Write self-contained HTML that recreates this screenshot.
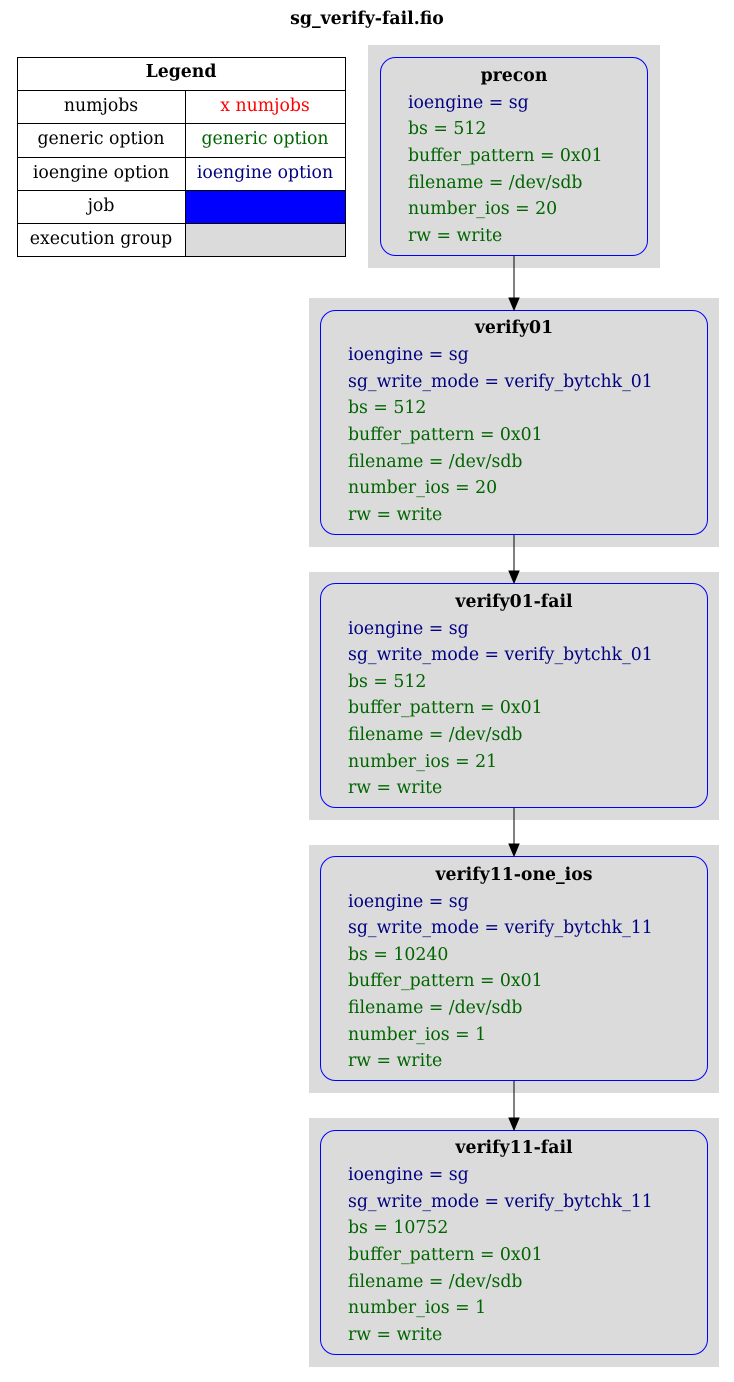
<!DOCTYPE html>
<html><head><meta charset="utf-8"><style>
html,body{margin:0;padding:0;background:#fff;}
svg{display:block;font-family:"DejaVu Serif","Liberation Serif",serif;font-size:17.3px;}
.b{font-weight:bold;}
.n{fill:#000080;}
.g{fill:#006400;}
</style></head><body>
<svg width="734" height="1382" viewBox="0 0 734 1382" xmlns="http://www.w3.org/2000/svg">
<text x="367" y="24" text-anchor="middle" class="b">sg_verify-fail.fio</text>

<!-- legend -->
<rect x="186" y="191" width="159" height="32" fill="#0000ff"/>
<rect x="186" y="224" width="159" height="32" fill="#dbdbdb"/>
<g stroke="#000" stroke-width="1" fill="none">
<rect x="17.5" y="57.5" width="328" height="199"/>
<line x1="17.5" y1="90.5" x2="345.5" y2="90.5"/>
<line x1="17.5" y1="123.5" x2="345.5" y2="123.5"/>
<line x1="17.5" y1="157.5" x2="345.5" y2="157.5"/>
<line x1="17.5" y1="190.5" x2="345.5" y2="190.5"/>
<line x1="17.5" y1="223.5" x2="345.5" y2="223.5"/>
<line x1="185.5" y1="90.5" x2="185.5" y2="256.5"/>
</g>
<text x="181" y="77" text-anchor="middle" class="b">Legend</text>
<text x="101" y="111" text-anchor="middle">numjobs</text>
<text x="265" y="111" text-anchor="middle" fill="#ff0000">x numjobs</text>
<text x="101" y="144" text-anchor="middle">generic option</text>
<text x="265" y="144" text-anchor="middle" class="g">generic option</text>
<text x="101" y="178" text-anchor="middle">ioengine option</text>
<text x="265" y="178" text-anchor="middle" class="n">ioengine option</text>
<text x="101" y="211" text-anchor="middle">job</text>
<text x="101" y="244" text-anchor="middle">execution group</text>

<!-- precon -->
<rect x="368" y="45" width="292" height="223" fill="#dbdbdb"/>
<rect x="380.5" y="57.5" width="267" height="198" rx="15" fill="none" stroke="#0000ff"/>
<text x="514" y="81" text-anchor="middle" class="b">precon</text>
<text x="408" y="108" class="n">ioengine = sg</text>
<text x="408" y="134" class="g">bs = 512</text>
<text x="408" y="161" class="g">buffer_pattern = 0x01</text>
<text x="408" y="188" class="g">filename = /dev/sdb</text>
<text x="408" y="214" class="g">number_ios = 20</text>
<text x="408" y="241" class="g">rw = write</text>

<!-- verify01 -->
<rect x="309" y="298" width="410" height="249" fill="#dbdbdb"/>
<rect x="320.5" y="310.5" width="387" height="224" rx="15" fill="none" stroke="#0000ff"/>
<text x="514" y="333" text-anchor="middle" class="b">verify01</text>
<text x="348" y="360" class="n">ioengine = sg</text>
<text x="348" y="387" class="n">sg_write_mode = verify_bytchk_01</text>
<text x="348" y="413" class="g">bs = 512</text>
<text x="348" y="440" class="g">buffer_pattern = 0x01</text>
<text x="348" y="467" class="g">filename = /dev/sdb</text>
<text x="348" y="493" class="g">number_ios = 20</text>
<text x="348" y="520" class="g">rw = write</text>

<!-- verify01-fail -->
<rect x="309" y="572" width="410" height="248" fill="#dbdbdb"/>
<rect x="320.5" y="583.5" width="387" height="224" rx="15" fill="none" stroke="#0000ff"/>
<text x="514" y="607" text-anchor="middle" class="b">verify01-fail</text>
<text x="348" y="634" class="n">ioengine = sg</text>
<text x="348" y="660" class="n">sg_write_mode = verify_bytchk_01</text>
<text x="348" y="687" class="g">bs = 512</text>
<text x="348" y="713" class="g">buffer_pattern = 0x01</text>
<text x="348" y="740" class="g">filename = /dev/sdb</text>
<text x="348" y="767" class="g">number_ios = 21</text>
<text x="348" y="793" class="g">rw = write</text>

<!-- verify11-one_ios -->
<rect x="309" y="845" width="410" height="248" fill="#dbdbdb"/>
<rect x="320.5" y="856.5" width="387" height="224" rx="15" fill="none" stroke="#0000ff"/>
<text x="514" y="880" text-anchor="middle" class="b">verify11-one_ios</text>
<text x="348" y="907" class="n">ioengine = sg</text>
<text x="348" y="933" class="n">sg_write_mode = verify_bytchk_11</text>
<text x="348" y="960" class="g">bs = 10240</text>
<text x="348" y="986" class="g">buffer_pattern = 0x01</text>
<text x="348" y="1013" class="g">filename = /dev/sdb</text>
<text x="348" y="1040" class="g">number_ios = 1</text>
<text x="348" y="1066" class="g">rw = write</text>

<!-- verify11-fail -->
<rect x="309" y="1118" width="410" height="249" fill="#dbdbdb"/>
<rect x="320.5" y="1130.5" width="387" height="224" rx="15" fill="none" stroke="#0000ff"/>
<text x="514" y="1153" text-anchor="middle" class="b">verify11-fail</text>
<text x="348" y="1180" class="n">ioengine = sg</text>
<text x="348" y="1207" class="n">sg_write_mode = verify_bytchk_11</text>
<text x="348" y="1233" class="g">bs = 10752</text>
<text x="348" y="1260" class="g">buffer_pattern = 0x01</text>
<text x="348" y="1287" class="g">filename = /dev/sdb</text>
<text x="348" y="1313" class="g">number_ios = 1</text>
<text x="348" y="1340" class="g">rw = write</text>

<!-- edges -->
<g stroke="#000" fill="#000">
<line x1="514" y1="256" x2="514" y2="298"/>
<path d="M509,298 L519,298 L514,310 z"/>
<line x1="514" y1="535" x2="514" y2="571"/>
<path d="M509,571 L519,571 L514,583 z"/>
<line x1="514" y1="808" x2="514" y2="844"/>
<path d="M509,844 L519,844 L514,856 z"/>
<line x1="514" y1="1081" x2="514" y2="1118"/>
<path d="M509,1118 L519,1118 L514,1130 z"/>
</g>
</svg>
</body></html>
